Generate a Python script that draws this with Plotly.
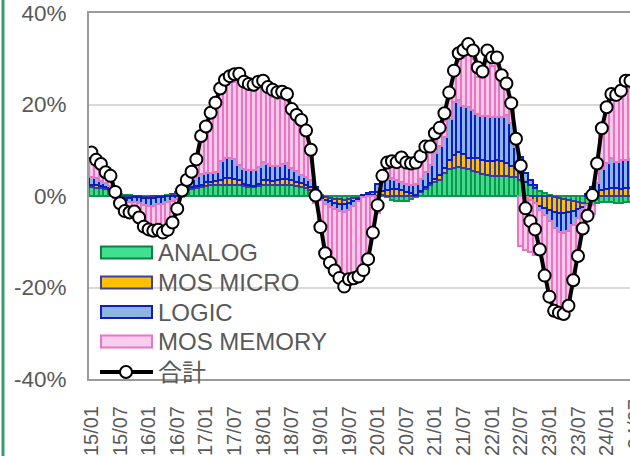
import plotly.graph_objects as go

# ---------------- data (YoY contribution, %) ----------------
months = [f"{y % 100:02d}/{m:02d}" for y in range(2015, 2025) for m in range(1, 13)][:114]

total = [
    9.5, 7.9, 7.0, 5.2, 4.4, 0.9, -1.6, -3.3, -3.6, -3.4, -4.7, -6.7,
    -7.3, -7.6, -7.4, -8.0, -7.4, -5.8, -2.8, 1.2, 3.5, 5.3, 8.0, 13.1,
    15.2, 18.2, 20.4, 23.5, 25.4, 26.2, 26.6, 26.7, 25.0, 24.5, 24.3, 25.0,
    25.2, 23.8, 23.2, 22.7, 22.8, 22.3, 19.0, 17.7, 16.6, 14.3, 10.1, 0.1,
    -6.8, -12.5, -14.6, -16.3, -17.9, -19.8, -18.2, -18.0, -17.6, -16.2, -13.8, -8.0,
    -2.0, 4.4, 7.3, 7.6, 7.4, 8.4, 7.3, 7.1, 7.3, 8.7, 10.8, 10.8,
    13.7, 14.9, 18.1, 22.6, 27.4, 31.2, 31.9, 33.2, 31.8, 28.1, 27.2, 31.8,
    30.3, 30.3, 26.4, 24.6, 20.3, 12.5, 6.6, -2.7, -5.5, -7.3, -11.7, -17.4,
    -22.0, -25.1, -25.5, -25.8, -24.0, -18.4, -13.1, -7.1, -4.3, 0.2, 7.1, 14.8,
    19.4, 22.3, 22.1, 23.0, 25.2, 25.2,
]

analog = [
    2.0, 1.8, 1.7, 1.6, 1.4, 0.8, 0.4, 0.2, 0.2, 0.1, 0.0, -0.2,
    -0.2, -0.1, 0.0, 0.1, 0.2, 0.4, 0.7, 1.0, 1.3, 1.5, 1.7, 1.9,
    2.2, 2.3, 2.3, 2.4, 2.4, 2.5, 2.5, 2.4, 2.2, 2.0, 1.9, 2.1,
    2.4, 2.4, 2.3, 2.4, 2.5, 2.5, 2.4, 2.2, 2.0, 1.7, 1.4, 0.8,
    0.2, -0.2, -0.4, -0.6, -0.7, -0.8, -0.7, -0.5, -0.4, -0.2, -0.1, 0.0,
    -0.2, 0.2, -0.3, -0.8, -1.0, -1.2, -1.0, -0.6, -0.3, 0.8, 1.6, 2.3,
    3.0, 3.6, 5.0, 5.8, 6.2, 6.4, 6.1, 5.8, 5.4, 5.2, 4.9, 4.6,
    4.4, 4.3, 4.4, 4.3, 4.2, 4.2, 3.6, 3.0, 2.4, 1.8, 1.2, 0.6,
    0.3, -0.2, -0.4, -0.6, -0.8, -1.0, -1.3, -1.6, -1.8, -1.9, -1.5, -1.4,
    -1.3, -1.4, -1.6, -1.5, -1.4, -1.3,
]

mos_micro = [
    0.5, 0.5, 0.4, 0.3, 0.2, -0.2, -0.4, -0.5, -0.4, -0.3, -0.3, -0.3,
    -0.3, -0.3, -0.2, -0.2, -0.1, 0.0, 0.1, 0.2, 0.3, 0.4, 0.5, 0.6,
    0.8, 0.8, 0.9, 1.2, 1.5, 1.4, 1.3, 1.0, 0.5, 0.3, 0.3, 0.6,
    1.1, 1.0, 0.9, 1.0, 1.2, 1.3, 1.0, 0.8, 0.8, 0.7, 0.5, 0.4,
    -0.3, -0.6, -0.8, -0.9, -1.0, -1.0, -0.9, -0.6, -0.3, 0.0, 0.2, 0.3,
    0.9, 1.0, 1.4, 1.6, 1.5, 1.3, 0.9, 0.6, 0.3, 0.3, 0.4, 0.6,
    0.8, 1.0, 1.2, 2.0, 2.8, 3.3, 3.0, 2.6, 2.8, 3.0, 3.0, 3.1,
    3.2, 3.5, 3.3, 2.9, 2.3, 2.0, 1.4, -0.3, -0.8, -1.5, -2.2, -2.6,
    -3.0, -3.2, -3.4, -3.2, -2.8, -2.2, -1.5, -0.8, -0.2, 0.5, 0.9, 1.3,
    1.5, 1.7, 1.7, 1.6, 1.7, 1.7,
]

logic = [
    1.7, 1.6, 1.2, 1.0, 0.6, 0.2, -0.4, -0.8, -1.0, -1.0, -1.2, -1.5,
    -1.6, -1.7, -1.5, -1.5, -1.3, -1.0, -0.7, 0.5, 1.2, 1.8, 2.2, 2.4,
    2.0, 1.9, 2.1, 4.0, 4.3, 4.3, 4.2, 3.4, 3.3, 3.4, 3.4, 3.6,
    4.0, 3.6, 3.4, 3.2, 3.4, 3.4, 2.8, 2.4, 1.8, 1.8, 1.6, 0.8,
    -0.5, -1.0, -1.2, -1.4, -1.6, -1.7, -1.4, -1.0, -0.5, 0.2, 0.4, 0.6,
    1.8, 2.0, 2.4, 2.4, 2.0, 1.8, 1.7, 1.9, 2.4, 2.6, 3.2, 3.8,
    5.5, 6.3, 6.7, 9.0, 11.5, 11.3, 10.5, 11.0, 10.5, 9.8, 9.6, 9.8,
    9.6, 9.4, 9.6, 10.5, 9.5, 4.5, 3.5, 2.0, 1.2, 0.5, -0.8, -1.5,
    -2.5, -3.5, -4.0, -4.2, -4.0, -3.2, -2.0, -0.6, 0.5, 1.5, 1.9, 4.5,
    5.8, 6.5, 5.8, 6.3, 6.2, 6.4,
]

mos_memory = [
    4.4, 3.8, 2.6, 1.8, 1.2, -0.3, -1.3, -2.2, -2.4, -2.2, -3.1, -4.5,
    -5.0, -5.3, -5.4, -6.0, -6.0, -5.0, -2.8, -0.3, 0.6, 1.2, 3.0, 7.0,
    9.5, 12.0, 14.0, 15.2, 16.0, 16.8, 17.0, 18.2, 17.7, 17.5, 17.3, 17.5,
    16.5, 15.5, 15.0, 14.5, 14.0, 13.5, 11.8, 11.0, 10.5, 9.0, 5.5, -1.5,
    -5.5, -9.8, -11.5, -12.8, -13.8, -15.5, -14.5, -15.0, -15.5, -15.0, -13.0, -8.0,
    -3.5, 1.5, 3.0, 3.3, 3.6, 4.5, 4.0, 3.8, 3.5, 3.2, 3.5, 3.2,
    2.8, 2.6, 3.6, 4.5, 5.5, 8.5, 10.5, 11.8, 11.3, 8.0, 8.2, 12.5,
    11.3, 11.5, 7.7, 5.5, 3.0, 0.5, -11.0, -11.5, -11.5, -11.5, -9.9, -13.9,
    -16.8, -18.2, -17.7, -17.8, -16.4, -12.0, -8.3, -4.1, -2.8, -2.0, 4.0, 8.0,
    11.0, 13.0, 13.5, 13.8, 15.5, 15.5,
]

x_tick_labels = ["15/01", "15/07", "16/01", "16/07", "17/01", "17/07", "18/01", "18/07",
                 "19/01", "19/07", "20/01", "20/07", "21/01", "21/07", "22/01", "22/07",
                 "23/01", "23/07", "24/01"]
x_tick_overflow = "24/07"
y_tick_vals = [-40, -20, 0, 20, 40]
y_tick_text = ["-40%", "-20%", "0%", "20%", "40%"]

series_names = ["ANALOG", "MOS MICRO", "LOGIC", "MOS MEMORY"]
total_name = "合計"

# ---------------- styling ----------------
W, H = 630, 456
L_M, R_M, T_M, B_M = 89, 0, 13, 77
PW, PH = W - L_M - R_M, H - T_M - B_M
FONT = "Liberation Sans, Arial, Noto Sans CJK JP, sans-serif"
TXT = "#595959"

fills = ["#3ddc8a", "#ffc000", "#8db4e2", "#f7c9e8"]
edges = ["#10954c", "#3a3a9e", "#0a1ec0", "#e874c6"]
legend_fills = ["#40e090", "#ffc000", "#8db4e2", "#f7cfea"]
legend_edges = ["#0e8045", "#3f3f9f", "#0f1fbf", "#ee72c8"]

x_range = [-0.5, 112.9]

fig = go.Figure()
for name, vals, fc, ec in zip(series_names, [analog, mos_micro, logic, mos_memory], fills, edges):
    fig.add_trace(go.Bar(x=months, y=vals, name=name,
                         marker=dict(color=fc, line=dict(color=ec, width=2)),
                         showlegend=False))

fig.add_trace(go.Scatter(x=months, y=total, name=total_name, mode="lines+markers",
                         line=dict(color="black", width=4),
                         marker=dict(size=12, color="white", line=dict(color="black", width=2)),
                         showlegend=False))


def px_x(px):
    return (px - L_M) / PW


def px_y(py):
    return (H - B_M - py) / PH


shapes = []
annotations = []

# green decoration line at the left edge
shapes.append(dict(type="line", xref="paper", yref="paper", x0=px_x(3), x1=px_x(3),
                   y0=px_y(H), y1=px_y(0), line=dict(color="#3a9c6b", width=3)))

# custom legend
leg_rows = [252.5, 282.5, 312, 341.5, 372]
for i, name in enumerate(series_names):
    yc = leg_rows[i]
    shapes.append(dict(type="rect", xref="paper", yref="paper",
                       x0=px_x(101), x1=px_x(152), y0=px_y(yc + 6), y1=px_y(yc - 6),
                       fillcolor=legend_fills[i], line=dict(color=legend_edges[i], width=2)))
for i, name in enumerate(series_names + [total_name]):
    annotations.append(dict(xref="paper", yref="paper", x=px_x(156), y=px_y(leg_rows[i]),
                            text=name, showarrow=False, xanchor="left", yanchor="middle",
                            font=dict(family=FONT, size=24, color=TXT)))
yl = leg_rows[4]
shapes.append(dict(type="line", xref="paper", yref="paper", x0=px_x(100), x1=px_x(153),
                   y0=px_y(yl), y1=px_y(yl), line=dict(color="black", width=4)))
shapes.append(dict(type="circle", xref="paper", yref="paper", x0=px_x(120), x1=px_x(132),
                   y0=px_y(yl + 6), y1=px_y(yl - 6), fillcolor="white",
                   line=dict(color="black", width=2)))

# tick label for the category just past the visible range (cut by the page edge)
annotations.append(dict(xref="paper", yref="paper",
                        x=(114 - x_range[0]) / (x_range[1] - x_range[0]), y=px_y(H - B_M + 18),
                        text=x_tick_overflow, textangle=-90, showarrow=False,
                        xanchor="center", yanchor="top",
                        font=dict(family=FONT, size=20, color=TXT)))

fig.update_layout(
    width=W, height=H,
    margin=dict(l=L_M, r=R_M, t=T_M, b=B_M, pad=0),
    paper_bgcolor="white", plot_bgcolor="white",
    barmode="relative", bargap=0,
    font=dict(family=FONT, color=TXT),
    shapes=shapes, annotations=annotations,
    showlegend=False,
)

fig.update_xaxes(type="category", range=x_range, tickmode="array",
                 tickvals=x_tick_labels, ticktext=x_tick_labels, tickangle=-90,
                 showline=True, mirror=True, linecolor="#9a9a9a", linewidth=2,
                 showgrid=False, ticks="", ticklabelstandoff=17, automargin=False,
                 tickfont=dict(family=FONT, size=20, color=TXT))
fig.update_yaxes(range=[-40, 40], tickmode="array", tickvals=y_tick_vals, ticktext=y_tick_text,
                 showline=True, mirror=True, linecolor="#9a9a9a", linewidth=2,
                 showgrid=True, gridcolor="#d9d9d9", gridwidth=1.5,
                 zeroline=True, zerolinecolor="#c8c8c8", zerolinewidth=2,
                 ticks="", ticklabelstandoff=16, automargin=False,
                 tickfont=dict(family=FONT, size=22.5, color=TXT))

fig.write_html("out.html", config={"displayModeBar": False},
               post_script="document.body.style.margin='0px';")
